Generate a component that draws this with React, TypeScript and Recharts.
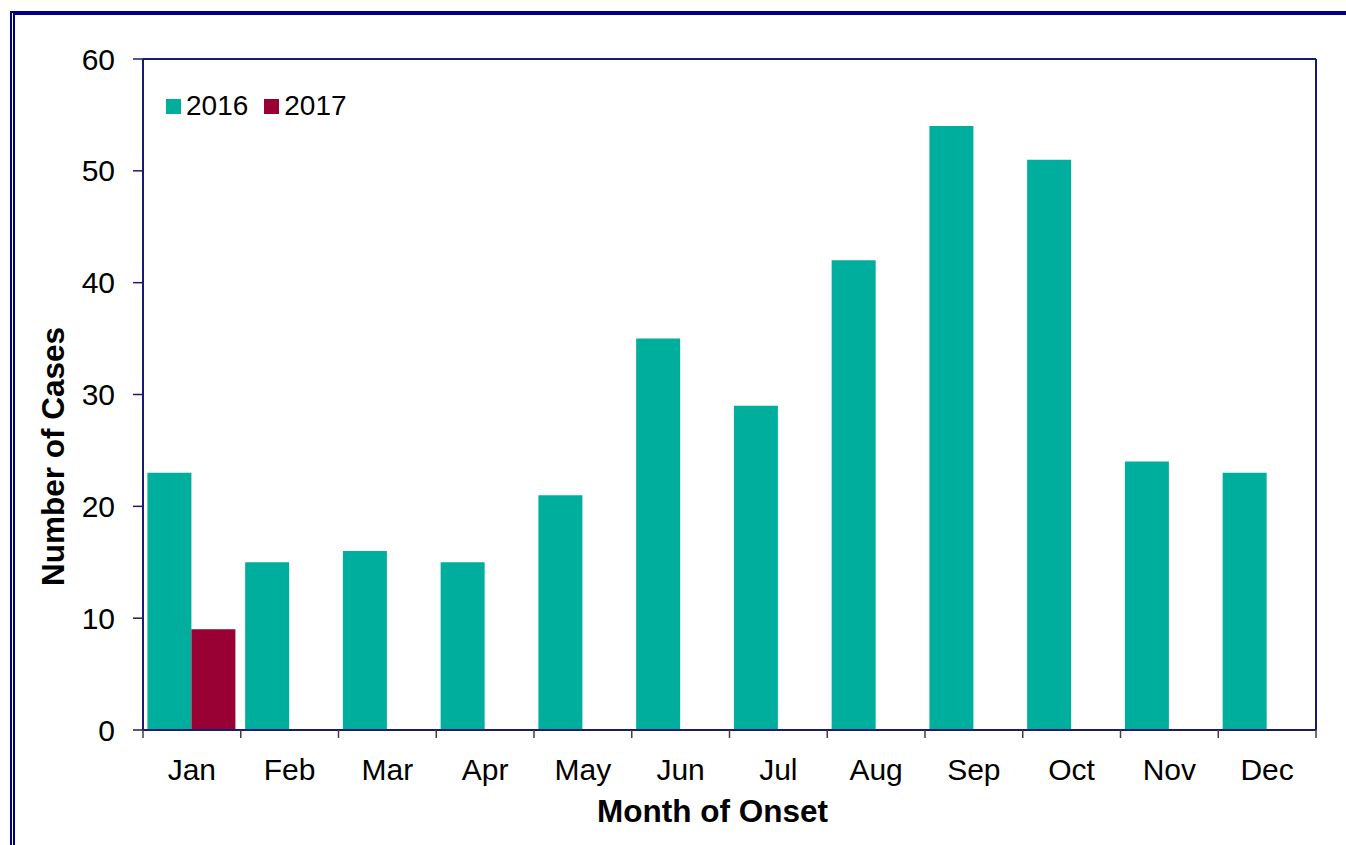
import { BarChart, Bar, XAxis, YAxis, Legend } from "recharts"

const months = ["Jan", "Feb", "Mar", "Apr", "May", "Jun", "Jul", "Aug", "Sep", "Oct", "Nov", "Dec"]
const cases2016 = [23, 15, 16, 15, 21, 35, 29, 42, 54, 51, 24, 23]
const cases2017: (number | null)[] = [9, null, null, null, null, null, null, null, null, null, null, null]
const yTicks = [0, 10, 20, 30, 40, 50, 60]

const data = months.map((m, i) => ({ month: m, y2016: cases2016[i], y2017: cases2017[i] }))

const TEAL = "#00AE9D"
const MAROON = "#990033"
const NAVY = "#1B1B6B"
const FONT = "'Liberation Sans', Arial, sans-serif"

const CHART_W = 1346
const CHART_H = 845
// top/right axes are 1px wide, so margins are 1px smaller
const MARGIN = { top: 58, right: 29, left: 0, bottom: 0 }
const Y_AXIS_W = 143
const PLOT_W = CHART_W - 30 - Y_AXIS_W
const X_TICK_SIZE = 8
const X_TICK_MARGIN = 21

// month label in the middle of the band, tick marks on the band edges
function MonthTick(props: any) {
  const { x, y, payload, index, visibleTicksCount } = props
  const count = visibleTicksCount || months.length
  const w = typeof props.width === "number" && props.width > 0 ? props.width : PLOT_W
  const half = w / count / 2
  const axisY = y - X_TICK_SIZE - X_TICK_MARGIN
  return (
    <g>
      <line x1={x - half} x2={x - half} y1={axisY} y2={axisY + X_TICK_SIZE} stroke="#404040" strokeWidth={1.5} />
      {index === count - 1 && (
        <line x1={x + half} x2={x + half} y1={axisY} y2={axisY + X_TICK_SIZE} stroke="#404040" strokeWidth={1.5} />
      )}
      <text x={x} y={y} dy="0.71em" textAnchor="middle" fontSize={30} fontFamily={FONT} fill="#000">
        {payload.value}
      </text>
    </g>
  )
}

function LegendContent() {
  const items = [
    { label: "2016", color: TEAL },
    { label: "2017", color: MAROON },
  ]
  return (
    <div style={{ display: "flex", alignItems: "center", fontFamily: FONT, fontSize: 28, color: "#000" }}>
      {items.map((it) => (
        <div key={it.label} style={{ display: "flex", alignItems: "center", marginRight: 16 }}>
          <span style={{ display: "inline-block", width: 15, height: 15, background: it.color, marginRight: 5 }} />
          <span>{it.label}</span>
        </div>
      ))}
    </div>
  )
}

export default function App() {
  return (
    <div style={{ position: "absolute", left: 0, top: 0, width: CHART_W, height: CHART_H, overflow: "hidden", background: "#fff" }}>
      <div
        style={{
          position: "absolute",
          left: 10,
          top: 11,
          width: 1400,
          height: 900,
          borderLeft: "5px double #000080",
          borderTop: "4px solid #000080",
        }}
      />
      <div style={{ position: "absolute", left: 0, top: 0 }}>
        <BarChart width={CHART_W} height={CHART_H} data={data} margin={MARGIN} barCategoryGap="4.5%" barGap={0}>
          <XAxis
            dataKey="month"
            height={CHART_H - 730}
            axisLine={{ stroke: NAVY, strokeWidth: 2 }}
            tickLine={false}
            tickSize={X_TICK_SIZE}
            tickMargin={X_TICK_MARGIN}
            interval={0}
            tick={<MonthTick />}
            label={{
              content: ({ viewBox }: any) => (
                <text
                  x={viewBox.x + viewBox.width / 2 - 17}
                  y={viewBox.y + 92}
                  textAnchor="middle"
                  fontSize={31.5}
                  fontWeight="bold"
                  fontFamily={FONT}
                  fill="#000"
                >
                  Month of Onset
                </text>
              ),
            }}
          />
          <XAxis xAxisId="top" dataKey="month" orientation="top" height={1} tick={false} tickLine={false} axisLine={{ stroke: NAVY, strokeWidth: 2 }} />
          <YAxis
            width={Y_AXIS_W}
            domain={[0, 60]}
            ticks={yTicks}
            interval={0}
            axisLine={{ stroke: NAVY, strokeWidth: 2 }}
            tickLine={{ stroke: NAVY, strokeWidth: 1.5 }}
            tickSize={10}
            tickMargin={18}
            tick={{ fontSize: 30, fontFamily: FONT, fill: "#000" }}
            label={{
              content: ({ viewBox }: any) => (
                <text
                  x={53}
                  y={viewBox.y + viewBox.height / 2 + 62}
                  transform={`rotate(-90, 53, ${viewBox.y + viewBox.height / 2 + 62})`}
                  textAnchor="middle"
                  dominantBaseline="central"
                  fontSize={31.5}
                  fontWeight="bold"
                  fontFamily={FONT}
                  fill="#000"
                >
                  Number of Cases
                </text>
              ),
            }}
          />
          <YAxis yAxisId="right" orientation="right" width={1} domain={[0, 60]} tick={false} tickLine={false} axisLine={{ stroke: NAVY, strokeWidth: 2 }} />
          <Legend
            layout="horizontal"
            verticalAlign="middle"
            align="center"
            content={<LegendContent />}
            wrapperStyle={{ left: 166, top: 90, width: "auto" }}
          />
          <Bar dataKey="y2016" name="2016" fill={TEAL} isAnimationActive={false} />
          <Bar dataKey="y2017" name="2017" fill={MAROON} isAnimationActive={false} />
        </BarChart>
      </div>
    </div>
  )
}
